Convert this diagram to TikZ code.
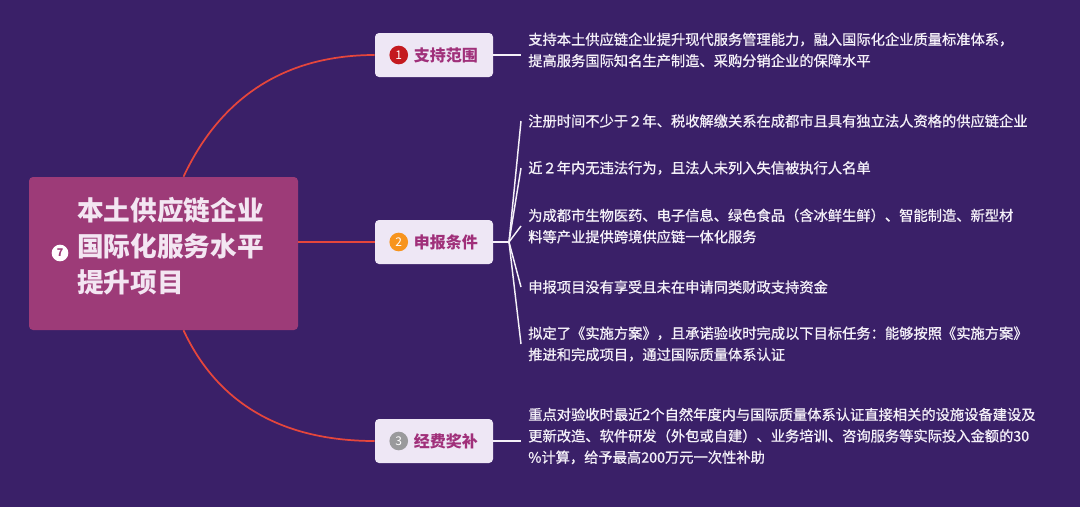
\documentclass[tikz,border=0pt]{standalone}
\usepackage{fontspec}
\setmainfont{Noto Sans CJK SC}
\newfontfamily\leaffont{Noto Sans CJK SC}[FakeBold=0.9]
\usetikzlibrary{positioning}
\definecolor{bgcol}{HTML}{3A2068}
\definecolor{rootcol}{HTML}{9D3B78}
\definecolor{roottext}{HTML}{F3E6F2}
\definecolor{stemcol}{HTML}{E5463C}
\definecolor{boxcol}{HTML}{EEE7F5}
\definecolor{labelcol}{HTML}{A0307A}
\definecolor{detailcol}{HTML}{F4F0F8}
\definecolor{badgered}{HTML}{C41A1F}
\definecolor{badgeorange}{HTML}{F7941D}
\definecolor{badgegray}{HTML}{9A9A9C}
\tikzset{
  % central topic box
  rootbox/.style={rectangle, rounded corners=3pt, fill=rootcol,
                  minimum width=201.75pt, minimum height=114.75pt},
  roottitle/.style={anchor=west, align=left, text=roottext, inner sep=0pt,
                    font=\fontsize{20}{27}\selectfont\bfseries},
  % sub topic box
  branchbox/.style={rectangle, rounded corners=3pt, fill=boxcol,
                    minimum width=88.5pt, minimum height=33pt},
  branchtext/.style={text=labelcol, inner sep=1pt,
                     font=\fontsize{12}{14}\selectfont\bfseries},
  % numbered marker
  numdot/.style={circle, fill=#1, text=white, inner sep=0pt,
                 minimum size=14pt, font=\fontsize{9}{9}\selectfont},
  % leaf text
  detail/.style={anchor=west, align=left, text=detailcol, inner xsep=5.25pt,
                 inner ysep=0pt, font=\fontsize{10.7}{16}\leaffont},
  stem/.style={stemcol, line width=1.3pt},
  twig/.style={detailcol, line width=1.1pt},
}

\begin{document}
\begin{tikzpicture}[x=0.75pt, y=-0.75pt]
  \fill[bgcol] (0,0) rectangle (1080,507);
  % central topic
  \node[rootbox] (root) at (163.5,253.5) {};
  \node[roottitle] (title) at (77,246)
    {本土供应链企业\\国际化服务水平\\提升项目};
  \node[numdot=white, text=rootcol, minimum size=12.5pt,
        font=\fontsize{8}{8}\selectfont\bfseries] (n0) at (60,253) {7};
  % sub topics
  \node[branchbox] (b1) at (434,55) {};
  \node[branchbox] (b2) at (434,242) {};
  \node[branchbox] (b3) at (434,441) {};
  \node[numdot=badgered] (n1) at ([xshift=18pt]b1.west) {1};
  \node[numdot=badgeorange] (n2) at ([xshift=18pt]b2.west) {2};
  \node[numdot=badgegray] (n3) at ([xshift=18pt]b3.west) {3};
  \node[branchtext, right=3pt of n1] (t1) {支持范围};
  \node[branchtext, right=3pt of n2] (t2) {申报条件};
  \node[branchtext, right=3pt of n3] (t3) {经费奖补};
  % stems from the central topic
  \draw[stem] ([xshift=15pt]root.north) to[out=65, in=180] (b1.west);
  \draw[stem] (root.east |- b2.west) -- (b2.west);
  \draw[stem] ([xshift=15pt]root.south) to[out=-65, in=180] (b3.west);
  % leaves
  \node[detail] (d1) at (521,50)
    {支持本土供应链企业提升现代服务管理能力，融入国际化企业质量标准体系，\\
     提高服务国际知名生产制造、采购分销企业的保障水平};
  \node[detail] (e1) at (521,121)
    {注册时间不少于２年、税收解缴关系在成都市且具有独立法人资格的供应链企业};
  \node[detail] (e2) at (521,168)
    {近２年内无违法行为，且法人未列入失信被执行人名单};
  \node[detail] (e3) at (521,226)
    {为成都市生物医药、电子信息、绿色食品（含冰鲜生鲜）、智能制造、新型材\\
     料等产业提供跨境供应链一体化服务};
  \node[detail] (e4) at (521,287)
    {申报项目没有享受且未在申请同类财政支持资金};
  \node[detail] (e5) at (521,344)
    {拟定了《实施方案》，且承诺验收时完成以下目标任务：能够按照《实施方案》\\
     推进和完成项目，通过国际质量体系认证};
  \node[detail] (f1) at (521,436)
    {重点对验收时最近2个自然年度内与国际质量体系认证直接相关的设施设备建设及\\
     更新改造、软件研发（外包或自建）、业务培训、咨询服务等实际投入金额的30\\
     \%计算，给予最高200万元一次性补助};
  % twigs to the leaves
  \draw[twig] (b1.east) -- (d1.west |- b1.east);
  \coordinate (fork) at (509,242);
  \draw[twig] (b2.east) -- (fork);
  \foreach \i in {1,...,5}
    \draw[twig] (fork) -- (e\i.west);
  \draw[twig] (b3.east) -- (f1.west |- b3.east);
\end{tikzpicture}
\end{document}
